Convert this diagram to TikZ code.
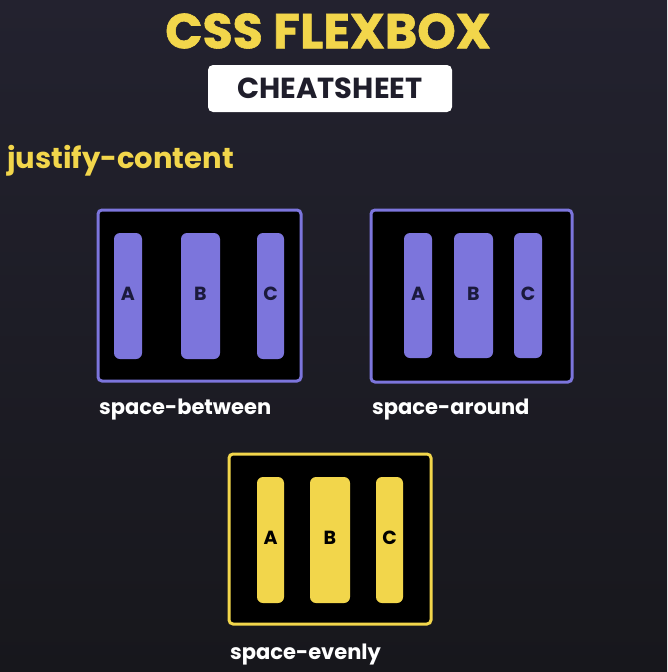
\documentclass[tikz,border=0pt]{standalone}
\usepackage{fontspec}
\setmainfont{Poppins}
\newfontfamily\heavy{Poppins}[BoldFeatures={FakeBold=1.2}]
\definecolor{bgtop}{HTML}{23222F}
\definecolor{bgbot}{HTML}{17171C}
\definecolor{fyellow}{HTML}{F2D64B}
\definecolor{fpurple}{HTML}{7C75DC}
\definecolor{navy}{HTML}{1B1A3C}
\definecolor{ink}{HTML}{1F1E2B}
\tikzset{
  frame/.style={fill=black, line width=3pt, rounded corners=4pt},
  barbox/.style={rounded corners=6pt, inner sep=0pt, font=\fontsize{19}{19}\selectfont\bfseries},
  pbar/.style={barbox, fill=fpurple, text=navy},
  ybar/.style={barbox, fill=fyellow, text=black},
  caption/.style={text=white, font=\fontsize{21}{21}\selectfont\bfseries, anchor=west, inner sep=0pt},
}
\newcommand{\up}[1]{\raisebox{4pt}{#1}}
\begin{document}
\begin{tikzpicture}[x=1pt,y=-1pt]
\shade[top color=bgtop, bottom color=bgbot] (0,0) rectangle (667,672);
\useasboundingbox (0,0) rectangle (667,672);
% title
\node[text=fyellow, font=\fontsize{49}{49}\selectfont\heavy\bfseries, inner sep=0pt] (title) at (328,31) {CSS FLEXBOX};
\node[fill=white, rounded corners=5pt, minimum width=244pt, minimum height=47pt, inner sep=0pt, text=ink, font=\fontsize{29}{29}\selectfont\bfseries] (cheat) at (330,88.5) {CHEATSHEET};
\node[text=fyellow, font=\fontsize{29}{29}\selectfont\bfseries, anchor=west, inner sep=0pt] (jc) at (7,161) {justify-content};
% box 1: space-between
\draw[frame, draw=fpurple] (98,210) rectangle (301,381);
\node[pbar, minimum width=28pt, minimum height=126pt] (b1a) at (128,296) {\up{A}};
\node[pbar, minimum width=39pt, minimum height=126pt] (b1b) at (200.5,296) {\up{B}};
\node[pbar, minimum width=27pt, minimum height=126pt] (b1c) at (270.5,296) {\up{C}};
\node[caption] (l1) at (99,410) {space-between};
% box 2: space-around
\draw[frame, draw=fpurple] (371,210) rectangle (572,382);
\node[pbar, minimum width=28pt, minimum height=125pt] (b2a) at (418,295.5) {\up{A}};
\node[pbar, minimum width=39pt, minimum height=125pt] (b2b) at (473.5,295.5) {\up{B}};
\node[pbar, minimum width=28pt, minimum height=125pt] (b2c) at (528,295.5) {\up{C}};
\node[caption] (l2) at (372,410) {space-around};
% box 3: space-evenly
\draw[frame, draw=fyellow] (229,454) rectangle (431,624);
\node[ybar, minimum width=27pt, minimum height=126pt] (b3a) at (270.5,540) {\up{A}};
\node[ybar, minimum width=40pt, minimum height=126pt] (b3b) at (330,540) {\up{B}};
\node[ybar, minimum width=27pt, minimum height=126pt] (b3c) at (389.5,540) {\up{C}};
\node[caption] (l3) at (230,655) {space-evenly};
\end{tikzpicture}
\end{document}
